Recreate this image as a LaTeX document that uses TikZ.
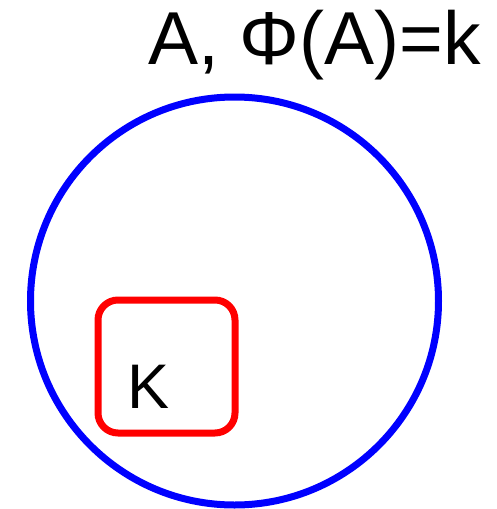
\documentclass[tikz,border=0pt]{standalone}
\usepackage{fontspec}
\setmainfont{Liberation Sans}
\begin{document}
\begin{tikzpicture}[x=1pt,y=-1pt,
  circ/.style={draw=blue,line width=7pt},
  sq/.style={draw=red,line width=7pt,rounded corners=20pt},
  lbl/.style={inner sep=0pt,anchor=base west}]
\useasboundingbox (0,0) rectangle (497,509);
\draw[circ] (234.5,301) circle[radius=204];
\draw[sq] (98,300) rectangle (235,433);
\node[lbl,font=\fontsize{63}{63}\selectfont] (k) at (127,408) {K};
\node[lbl,font=\fontsize{75}{75}\selectfont] (t) at (148,64) {A, Φ(A)=k};
\end{tikzpicture}
\end{document}
